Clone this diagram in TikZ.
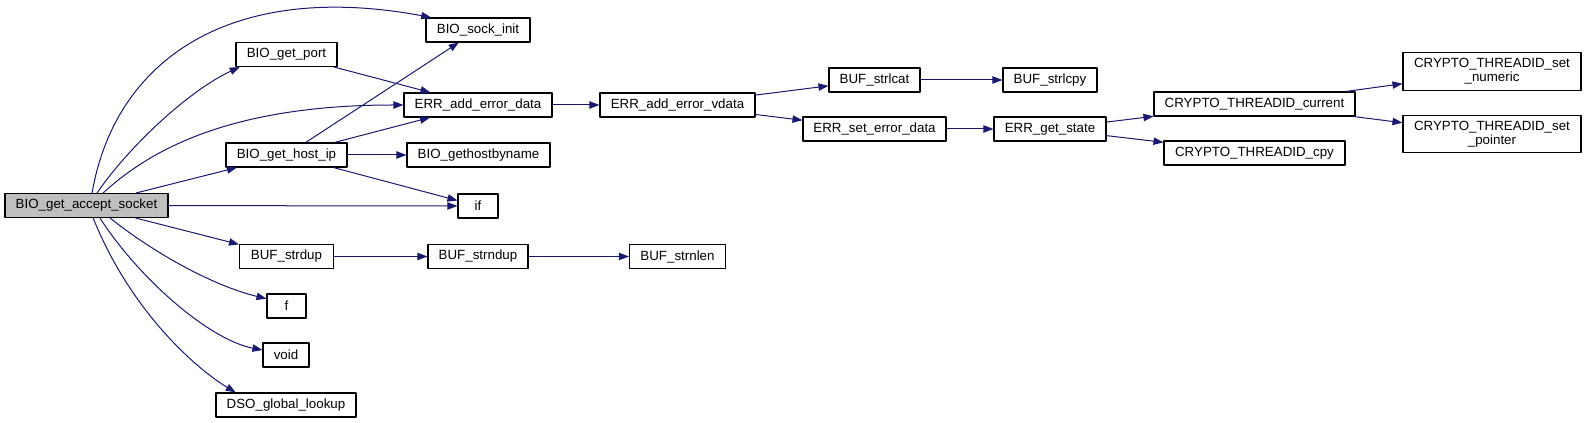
\documentclass[tikz,border=0pt]{standalone}
\usepackage{fontspec}
\setmainfont{Liberation Sans}
\usetikzlibrary{arrows.meta}
\definecolor{edgeblue}{RGB}{25,25,112}
\definecolor{boxgray}{RGB}{191,191,191}

\begin{document}
\begin{tikzpicture}[x=0.75pt, y=-0.75pt, line join=round, >={Triangle[length=7.5pt,width=5.5pt]},
	func/.style={draw=black, fill=white, line width=0.8pt, inner sep=0pt, minimum height=18pt,
		font=\fontsize{10}{10.5}\selectfont, align=center},
	boxw/.style={minimum width=#1*0.75pt},
	call/.style={->, draw=edgeblue, line width=0.75pt}]
	\useasboundingbox (0,0) rectangle (1586,423);
	
	% Caller
	\node[func, boxw=163, fill=boxgray] (accept) at (86.5,205.5) {BIO\_get\_accept\_socket};
	
	% Direct callees
	\node[func, boxw=104] (sockinit) at (478,30) {BIO\_sock\_init};
	\node[func, boxw=101] (getport) at (286.5,54.5) {BIO\_get\_port};
	\node[func, boxw=148] (adderr) at (478,105) {ERR\_add\_error\_data};
	\node[func, boxw=121] (hostip) at (286.5,155) {BIO\_get\_host\_ip};
	\node[func, boxw=143] (gethost) at (478.5,155) {BIO\_gethostbyname};
	\node[func, boxw=40] (if) at (478,206) {if};
	\node[func, boxw=94] (strdup) at (286.5,256.5) {BUF\_strdup};
	\node[func, boxw=100] (strndup) at (478,256.5) {BUF\_strndup};
	\node[func, boxw=96] (strnlen) at (677.5,256.5) {BUF\_strnlen};
	\node[func, boxw=39] (f) at (286.5,306) {f};
	\node[func, boxw=46] (void) at (286,355) {void};
	\node[func, boxw=140] (dso) at (286,405) {DSO\_global\_lookup};
	
	% Error chain
	\node[func, boxw=155] (vdata) at (677.5,105) {ERR\_add\_error\_vdata};
	\node[func, boxw=91] (strlcat) at (874.5,80) {BUF\_strlcat};
	\node[func, boxw=94] (strlcpy) at (1050,80) {BUF\_strlcpy};
	\node[func, boxw=143] (seterr) at (874.5,129) {ERR\_set\_error\_data};
	\node[func, boxw=112] (getstate) at (1050,129) {ERR\_get\_state};
	\node[func, boxw=201] (current) at (1254.5,104) {CRYPTO\_THREADID\_current};
	\node[func, boxw=181] (cpy) at (1254.5,153) {CRYPTO\_THREADID\_cpy};
	\node[func, boxw=178, minimum height=28pt] (setnum) at (1492,71.5) {CRYPTO\_THREADID\_set\\\_numeric};
	\node[func, boxw=178, minimum height=28pt] (setptr) at (1492,134) {CRYPTO\_THREADID\_set\\\_pointer};
	
	% Curved calls
	\draw[call] (accept.66) .. controls (115,60) and (230,-20) .. (sockinit.165);
	\draw[call] (accept.50) .. controls (130,145) and (190,90) .. (getport.195);
	\draw[call] (accept.37) .. controls (150,150) and (230,105) .. (adderr.west);
	\draw[call] (accept.-28) .. controls (150,250) and (210,285) .. (f.160);
	\draw[call] (accept.-43) .. controls (140,280) and (210,340) .. (void.168);
	\draw[call] (accept.-62) .. controls (130,310) and (195,368) .. (dso.166);
	
	% Straight calls
	\draw[call] (accept) -- (hostip);
	\draw[call] (accept) -- (if);
	\draw[call] (accept) -- (strdup);
	\draw[call] (getport) -- (adderr);
	\draw[call] (hostip) -- (sockinit);
	\draw[call] (hostip) -- (adderr);
	\draw[call] (hostip) -- (gethost);
	\draw[call] (hostip) -- (if);
	\draw[call] (strdup) -- (strndup);
	\draw[call] (strndup) -- (strnlen);
	\draw[call] (adderr) -- (vdata);
	\draw[call] (vdata) -- (strlcat);
	\draw[call] (vdata) -- (seterr);
	\draw[call] (strlcat) -- (strlcpy);
	\draw[call] (seterr) -- (getstate);
	\draw[call] (getstate) -- (current);
	\draw[call] (getstate) -- (cpy);
	\draw[call] (current) -- (setnum);
	\draw[call] (current) -- (setptr);
\end{tikzpicture}
\end{document}
